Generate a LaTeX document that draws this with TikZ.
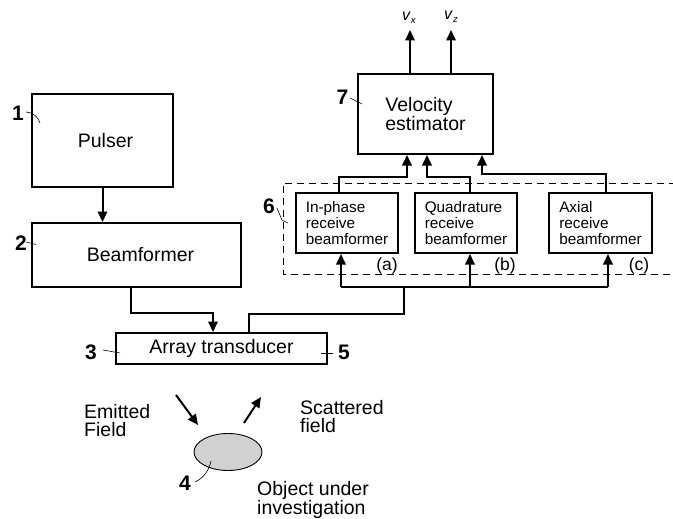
\documentclass[tikz,border=0pt]{standalone}
\usepackage{fontspec}
\setmainfont{Liberation Sans}
\usetikzlibrary{arrows.meta,shapes.geometric}
\begin{document}
\begin{tikzpicture}[x=1pt,y=-1pt,
  box/.style={draw,line width=2pt,inner sep=0pt,font=\fontsize{19.5}{18.5}\selectfont},
  rbox/.style={draw,line width=2pt,inner sep=0pt,minimum width=102pt,minimum height=60pt,align=left,font=\fontsize{15.3}{15.6}\selectfont},
  wire/.style={line width=2pt},
  arr/.style={line width=2pt,-{Triangle[width=9.5pt,length=10.5pt]}},
  num/.style={inner sep=0pt,font=\fontsize{21}{21}\bfseries\selectfont},
  lead/.style={line width=0.6pt},
  txt/.style={inner sep=0pt,align=left,anchor=north west,font=\fontsize{19.5}{17.8}\selectfont},
  sub/.style={inner sep=0pt,font=\fontsize{17.5}{17.5}\selectfont}
]
\useasboundingbox (0,0) rectangle (673,519);

% group 6 (dashed)
\draw[line width=0.9pt,dash pattern=on 7pt off 5pt] (676,183) -- (283,183) -- (283,274) -- (676,274);

% main boxes
\node[box,minimum width=141pt,minimum height=93pt] (pulser) at (102.5,140.5) {\hspace*{6pt}Pulser};
\node[box,minimum width=209pt,minimum height=64pt] (beam) at (136.5,255) {\hspace*{8pt}Beamformer};
\node[box,minimum width=211pt,minimum height=31pt] (arr) at (221.5,348.5) {Array transducer};
\node[box,minimum width=135pt,minimum height=80pt,align=left] (vel) at (425.5,114) {Velocity\\estimator};

\node[rbox] (inph) at (347,223) {In-phase\\receive\\beamformer};
\node[rbox] (quad) at (466,223) {Quadrature\\receive\\beamformer};
\node[rbox,minimum width=103pt] (axial) at (600.5,223) {Axial\\receive\\beamformer};

\node[sub] (la) at (387,266) {(a)};
\node[sub] (lb) at (505,266) {(b)};
\node[sub] (lc) at (639,266) {(c)};

% pulser -> beamformer
\draw[arr] (pulser.south) -- (pulser.south |- beam.north);

% beamformer -> array
\coordinate (bd) at (131,313);
\coordinate (ad) at (213,313);
\draw[arr] (bd |- beam.south) -- (bd) -- (ad) -- (ad |- arr.north);

% array -> bus
\coordinate (au) at (249,314);
\coordinate (bu) at (404,314);
\coordinate (bt) at (404,287);
\draw[wire] (au |- arr.north) -- (au) -- (bu) -- (bt);
\coordinate (ba) at (341,287);
\coordinate (bb) at (470,287);
\coordinate (bc) at (608,287);
\draw[wire] (ba) -- (bc);
\draw[arr] (ba) -- (ba |- inph.south);
\draw[arr] (bb) -- (bb |- quad.south);
\draw[arr] (bc) -- (bc |- axial.south);

% receivers -> velocity estimator
\coordinate (ia) at (339,177);
\coordinate (va) at (407,177);
\draw[arr] (ia |- inph.north) -- (ia) -- (va) -- (va |- vel.south);
\coordinate (qa) at (470,177);
\coordinate (vb) at (427,177);
\draw[arr] (qa |- quad.north) -- (qa) -- (vb) -- (vb |- vel.south);
\coordinate (xa) at (606,174);
\coordinate (vc) at (482,174);
\draw[arr] (xa |- axial.north) -- (xa) -- (vc) -- (vc |- vel.south);

% outputs
\coordinate (ox) at (410,30);
\coordinate (oz) at (451,30);
\draw[arr] (ox |- vel.north) -- (ox);
\draw[arr] (oz |- vel.north) -- (oz);
\node[inner sep=0pt,anchor=base,font=\fontsize{16}{16}\selectfont] (vx) at (409,21) {\textit{v}\raisebox{-3pt}{\fontsize{9.5}{9.5}\selectfont\textit{x}}};
\node[inner sep=0pt,anchor=base,font=\fontsize{16}{16}\selectfont] (vz) at (451,20) {\textit{v}\raisebox{-3pt}{\fontsize{9.5}{9.5}\selectfont\textit{z}}};

% object
\node[draw,ellipse,line width=0.9pt,fill=black!18,minimum width=68pt,minimum height=37pt,inner sep=0pt] (obj) at (228,452) {};
\coordinate (e1) at (176,395);
\coordinate (e2) at (198,425);
\coordinate (s1) at (244,423);
\coordinate (s2) at (261,397);
\draw[arr] (e1) -- (e2);
\draw[arr] (s1) -- (s2);
\node[txt] (emit) at (84,404) {Emitted\\Field};
\node[txt] (scat) at (300,400) {Scattered\\field};
\node[txt] (objt) at (257,481) {Object under\\investigation};

% numbers and leaders
\node[num] (n1) at (18,113) {1};
\node[num] (n2) at (21,243) {2};
\node[num] (n3) at (91,352) {3};
\node[num] (n4) at (185,483) {4};
\node[num] (n5) at (344,352) {5};
\node[num] (n6) at (269,206) {6};
\node[num] (n7) at (342.5,97) {7};

\draw[lead] (26,112) .. controls (34,113) and (38,117) .. (40,123);
\draw[lead] (26,242) -- (36,244.5);
\draw[lead] (103,350) -- (120,353);
\draw[lead] (321,353) -- (333,353);
\draw[lead] (350,98) -- (362,104);
\draw[lead] (277,208) -- (282,220) -- (288,223);
\draw[lead] (195,482) .. controls (204,478) and (209,470) .. (211,461);
\end{tikzpicture}
\end{document}
